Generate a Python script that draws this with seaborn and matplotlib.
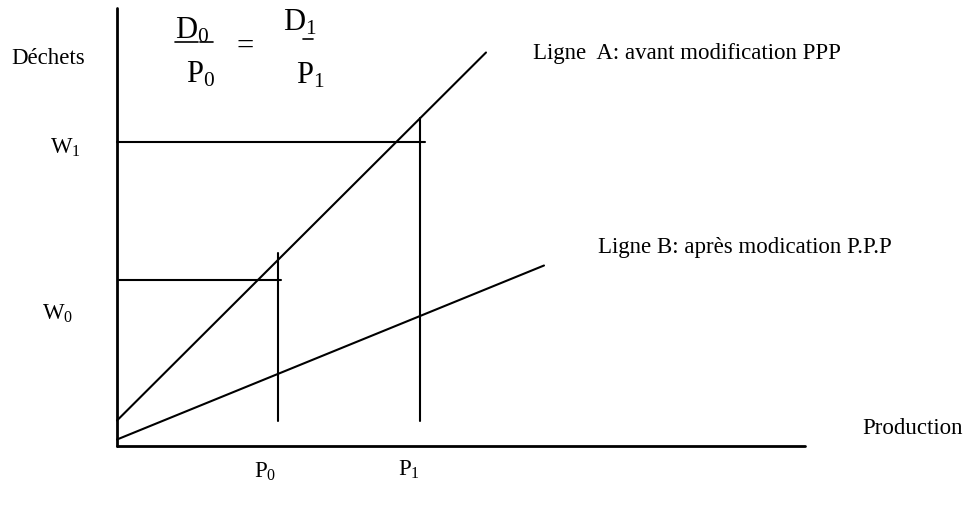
import matplotlib
matplotlib.use("Agg")
import matplotlib.pyplot as plt
import matplotlib.patches as mpatches
import seaborn as sns

# ---- data (arbitrary units: 1 unit ~ 10 px of the original drawing) ----
axis_x = [0.0, 68.8]          # production axis
axis_y = [0.0, 43.8]          # waste axis
lineA_x = [0.0, 36.9]         # Ligne A: avant modification PPP
lineA_y = [2.5, 39.3]
lineB_x = [0.0, 42.7]         # Ligne B: après modification P.P.P
lineB_y = [0.6, 18.0]
P0 = 16.1
P1 = 30.3
W_high = 30.4
W_low = 16.6
P0_span = [2.5, 19.3]
P1_span = [2.5, 32.8]
W_high_span = [0.0, 30.8]
W_low_span = [0.2, 16.4]

sns.set_theme(style="white")
plt.rcParams["font.family"] = ["Liberation Serif", "DejaVu Serif"]
plt.rcParams["text.color"] = "black"
plt.rcParams["mathtext.fontset"] = "custom"
plt.rcParams["mathtext.rm"] = "Liberation Serif"
plt.rcParams["mathtext.it"] = "Liberation Serif:italic"

fig = plt.figure(figsize=(9.68, 5.08), dpi=100)
ax = fig.add_axes([0, 0, 1, 1])
ax.set_xlim(-11.7, 85.1)
ax.set_ylim(-6.25, 44.55)
ax.axis("off")

lw = 1.5
k = dict(color="black", linewidth=lw, ax=ax, legend=False, estimator=None, sort=False)
# axes
sns.lineplot(x=axis_x, y=[0, 0], color="black", linewidth=2.0, ax=ax, estimator=None, sort=False)
sns.lineplot(x=[0, 0], y=axis_y, color="black", linewidth=2.0, ax=ax, estimator=None, sort=False)
# lines A and B
sns.lineplot(x=lineA_x, y=lineA_y, **k)
sns.lineplot(x=lineB_x, y=lineB_y, **k)
# guides
sns.lineplot(x=W_high_span, y=[W_high, W_high], **k)
sns.lineplot(x=W_low_span, y=[W_low, W_low], **k)
sns.lineplot(x=[P0, P0], y=P0_span, **k)
sns.lineplot(x=[P1, P1], y=P1_span, **k)

fs = 16.5
ax.text(-3.2, 38.75, "Déchets", fontsize=fs, ha="right", va="center")
ax.text(-6.7, 29.75, r"$\mathrm{W}_1$", fontsize=fs, ha="left", va="center")
ax.text(-7.5, 13.15, r"$\mathrm{W}_0$", fontsize=fs, ha="left", va="center")
ax.text(P0 - 2.4, -2.6, r"$\mathrm{P}_0$", fontsize=fs, ha="left", va="center")
ax.text(P1 - 2.2, -2.4, r"$\mathrm{P}_1$", fontsize=fs, ha="left", va="center")
ax.text(41.6, 39.25, "Ligne  A: avant modification PPP", fontsize=fs, ha="left", va="center")
ax.text(48.1, 19.75, "Ligne B: après modication P.P.P", fontsize=fs, ha="left", va="center")
prod = ax.text(74.5, 1.65, "Production", fontsize=fs, ha="left", va="center", clip_on=True)
clip = mpatches.Rectangle((60, 1.2), 40, 10, transform=ax.transData)
prod.set_clip_path(clip)

# formula
ffs = 22
ax.text(5.8, 41.45, r"$\mathrm{D}_0$", fontsize=ffs, ha="left", va="center")
ax.text(6.9, 37.1, r"$\mathrm{P}_0$", fontsize=ffs, ha="left", va="center")
ax.text(11.9, 39.8, "=", fontsize=ffs, ha="left", va="center")
ax.text(16.6, 42.3, r"$\mathrm{D}_1$", fontsize=ffs, ha="left", va="center")
ax.text(17.9, 37.0, r"$\mathrm{P}_1$", fontsize=ffs, ha="left", va="center")
ax.plot([5.8, 8.1], [40.35, 40.35], color="black", linewidth=1.2)
ax.plot([8.3, 9.6], [40.35, 40.35], color="black", linewidth=1.2)
ax.plot([18.6, 19.6], [40.65, 40.65], color="black", linewidth=1.2)

fig.savefig("out.png", dpi=100)
